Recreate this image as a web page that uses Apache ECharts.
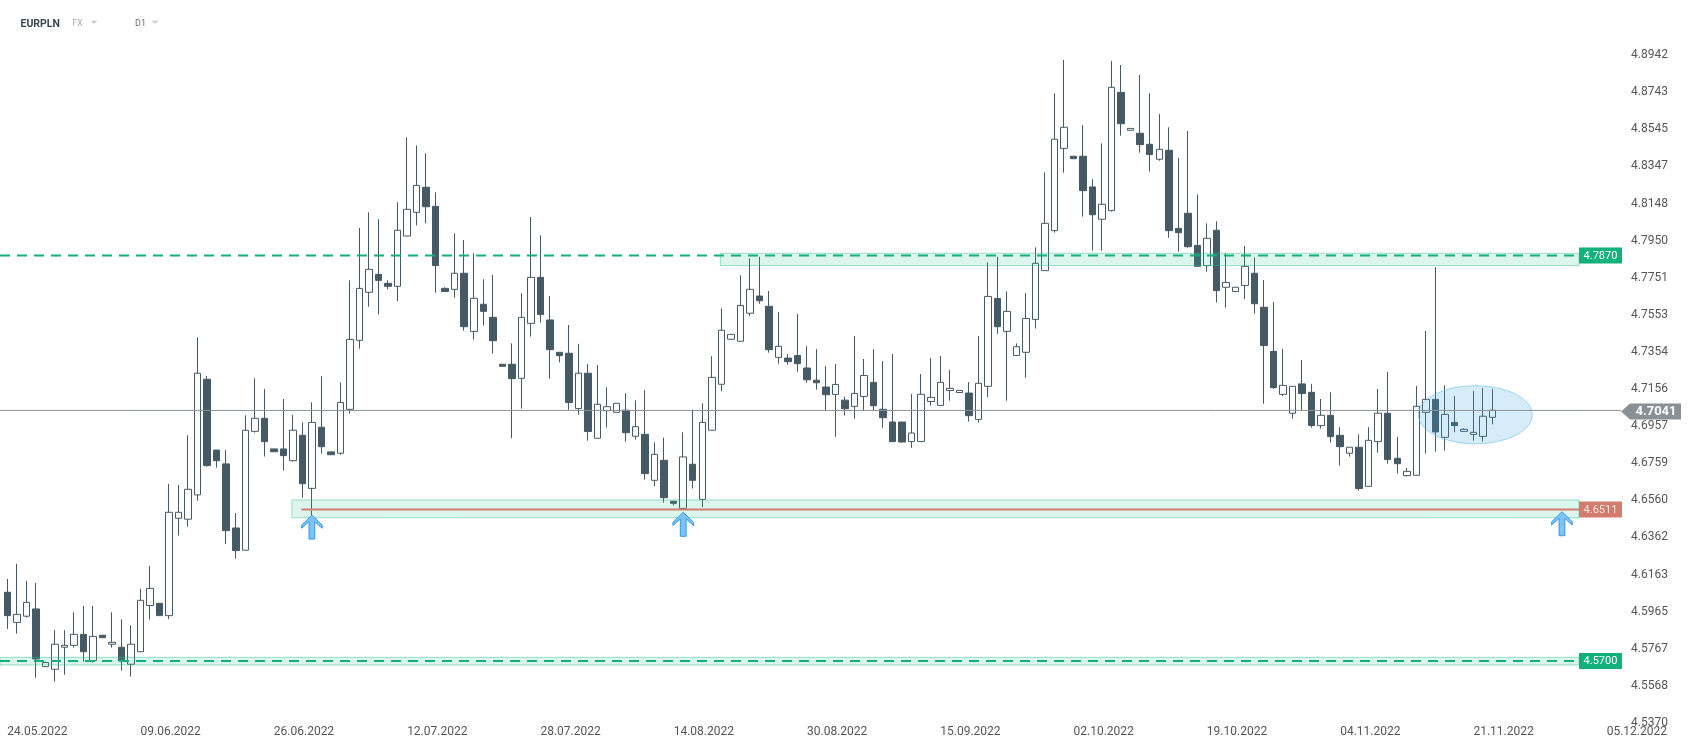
<!DOCTYPE html>
<html><head><meta charset="utf-8">
<script src="https://cdn.jsdelivr.net/npm/echarts@6/dist/echarts.min.js"></script>
<style>html,body{margin:0;padding:0;background:#fff}#c{width:1691px;height:749px}</style>
</head><body><div id="c"></div>
<script>
// ---- categories (6-bar trading weeks Sun-Fri, then future calendar days) ----
const dates = [
'24.05.2022','25.05.2022','26.05.2022','27.05.2022','29.05.2022','30.05.2022','31.05.2022',
'01.06.2022','02.06.2022','03.06.2022','05.06.2022','06.06.2022','07.06.2022','08.06.2022','09.06.2022','10.06.2022',
'12.06.2022','13.06.2022','14.06.2022','15.06.2022','16.06.2022','17.06.2022','19.06.2022','20.06.2022','21.06.2022',
'22.06.2022','23.06.2022','24.06.2022','26.06.2022','27.06.2022','28.06.2022','29.06.2022','30.06.2022',
'01.07.2022','03.07.2022','04.07.2022','05.07.2022','06.07.2022','07.07.2022','08.07.2022','10.07.2022','11.07.2022',
'12.07.2022','13.07.2022','14.07.2022','15.07.2022','17.07.2022','18.07.2022','19.07.2022','20.07.2022','21.07.2022',
'22.07.2022','24.07.2022','25.07.2022','26.07.2022','27.07.2022','28.07.2022','29.07.2022','31.07.2022',
'01.08.2022','02.08.2022','03.08.2022','04.08.2022','05.08.2022','07.08.2022','08.08.2022','09.08.2022','10.08.2022',
'11.08.2022','12.08.2022','14.08.2022','15.08.2022','16.08.2022','17.08.2022','18.08.2022','19.08.2022','21.08.2022',
'22.08.2022','23.08.2022','24.08.2022','25.08.2022','26.08.2022','28.08.2022','29.08.2022','30.08.2022','31.08.2022',
'01.09.2022','02.09.2022','04.09.2022','05.09.2022','06.09.2022','07.09.2022','08.09.2022','09.09.2022','11.09.2022',
'12.09.2022','13.09.2022','14.09.2022','15.09.2022','16.09.2022','18.09.2022','19.09.2022','20.09.2022','21.09.2022',
'22.09.2022','23.09.2022','25.09.2022','26.09.2022','27.09.2022','28.09.2022','29.09.2022','30.09.2022',
'02.10.2022','03.10.2022','04.10.2022','05.10.2022','06.10.2022','07.10.2022','09.10.2022','10.10.2022','11.10.2022',
'12.10.2022','13.10.2022','14.10.2022','17.10.2022','18.10.2022','19.10.2022','20.10.2022','21.10.2022','23.10.2022',
'24.10.2022','25.10.2022','26.10.2022','27.10.2022','28.10.2022','30.10.2022','31.10.2022',
'01.11.2022','02.11.2022','03.11.2022','04.11.2022','06.11.2022','07.11.2022','08.11.2022','09.11.2022','10.11.2022',
'11.11.2022','13.11.2022','14.11.2022','15.11.2022','16.11.2022','17.11.2022','18.11.2022','20.11.2022','21.11.2022',
'22.11.2022','23.11.2022',
'24.11.2022','25.11.2022','26.11.2022','27.11.2022','28.11.2022','29.11.2022','30.11.2022','01.12.2022','02.12.2022',
'03.12.2022','04.12.2022','05.12.2022','06.12.2022'
];

// ---- OHLC series ----
const opens = [
4.6068,4.5907,4.5940,4.5979,4.5670,4.5656,4.5774,4.5784,4.5843,4.5702,
4.5838,4.5790,4.5774,4.5683,4.5750,4.5997,4.6009,4.5943,4.6464,4.6459,
4.6589,4.7208,4.6829,4.6755,4.6412,4.6293,4.6929,4.6999,4.6835,4.6835,
4.6772,4.6908,4.6624,4.6951,4.6819,4.6812,4.7047,4.7416,4.7673,4.7769,
4.7721,4.7705,4.7974,4.8101,4.8235,4.8133,4.7694,4.7689,4.7775,4.7464,
4.7609,4.7539,4.7288,4.7288,4.7213,4.7507,4.7753,4.7525,4.7352,4.7347,
4.7051,4.7240,4.6892,4.7040,4.7031,4.7042,4.6903,4.6913,4.6667,4.6774,
4.6555,4.6517,4.6753,4.6565,4.6935,4.7181,4.7422,4.7411,4.7561,4.7653,
4.7598,4.7325,4.7321,4.7335,4.7268,4.7203,4.7166,4.7127,4.7096,4.7063,
4.7116,4.7191,4.7047,4.6979,4.6979,4.6874,4.6875,4.7089,4.7068,4.7148,
4.7137,4.7134,4.6993,4.7170,4.7640,4.7464,4.7335,4.7352,4.7528,4.7789,
4.8003,4.8443,4.8401,4.8401,4.8237,4.8064,4.8110,4.8743,4.8540,4.8524,
4.8465,4.8385,4.8433,4.8015,4.8096,4.7924,4.7816,4.8005,4.7700,4.7677,
4.7710,4.7775,4.7593,4.7357,4.7127,4.7026,4.7183,4.7138,4.6960,4.7015,
4.6908,4.6812,4.6844,4.6635,4.6874,4.7026,4.6785,4.6692,4.6694,4.7031,
4.7100,4.6897,4.6977,4.6929,4.6913,4.6902,4.7004
];
const closes = [
4.5943,4.5950,4.6014,4.5711,4.5692,4.5790,4.5784,4.5843,4.5750,4.5832,
4.5825,4.5800,4.5702,4.5790,4.6025,4.6089,4.5943,4.6496,4.6496,4.6619,
4.7240,4.6746,4.6772,4.6398,4.6291,4.6935,4.6999,4.6874,4.6820,4.6799,
4.6935,4.6649,4.6977,4.6847,4.6804,4.7084,4.7421,4.7694,4.7796,4.7737,
4.7705,4.8005,4.8117,4.8245,4.8131,4.7816,4.7677,4.7775,4.7489,4.7641,
4.7571,4.7414,4.7277,4.7211,4.7539,4.7753,4.7554,4.7366,4.7334,4.7083,
4.7240,4.6928,4.7074,4.7061,4.7079,4.6922,4.6954,4.6703,4.6806,4.6574,
4.6544,4.6792,4.6667,4.6977,4.7218,4.7470,4.7448,4.7603,4.7689,4.7628,
4.7366,4.7384,4.7302,4.7291,4.7205,4.7189,4.7125,4.7180,4.7050,4.7132,
4.7228,4.7066,4.7002,4.6874,4.6872,4.6920,4.7127,4.7111,4.7191,4.7159,
4.7148,4.7013,4.7186,4.7651,4.7489,4.7571,4.7382,4.7533,4.7828,4.8042,
4.8492,4.8556,4.8388,4.8217,4.8088,4.8144,4.8770,4.8575,4.8550,4.8463,
4.8410,4.8438,4.8003,4.7992,4.7917,4.7812,4.7962,4.7682,4.7726,4.7700,
4.7812,4.7612,4.7388,4.7163,4.7175,4.7170,4.7131,4.6960,4.7015,4.6901,
4.6847,4.6844,4.6623,4.6881,4.7026,4.6778,4.6756,4.6715,4.7063,4.7100,
4.6926,4.7020,4.6960,4.6940,4.6924,4.7010,4.7042
];
const lows = [
4.5872,4.5847,4.5932,4.5611,4.5670,4.5590,4.5627,4.5772,4.5697,4.5693,
4.5825,4.5772,4.5649,4.5617,4.5750,4.5922,4.5943,4.5925,4.6371,4.6419,
4.6558,4.6740,4.6735,4.6326,4.6248,4.6293,4.6922,4.6794,4.6820,4.6719,
4.6767,4.6574,4.6473,4.6810,4.6804,4.6804,4.7024,4.7371,4.7596,4.7555,
4.7689,4.7625,4.7974,4.8031,4.8042,4.7671,4.7677,4.7644,4.7468,4.7420,
4.7495,4.7345,4.7277,4.6892,4.7051,4.7436,4.7511,4.7211,4.7298,4.7045,
4.7018,4.6879,4.6892,4.6949,4.7031,4.6874,4.6885,4.6671,4.6635,4.6548,
4.6533,4.6517,4.6623,4.6523,4.6935,4.7143,4.7422,4.7411,4.7545,4.7612,
4.7350,4.7291,4.7286,4.7248,4.7189,4.7152,4.7038,4.6900,4.7013,4.6997,
4.7038,4.7038,4.6948,4.6874,4.6868,4.6841,4.6875,4.7066,4.7068,4.7093,
4.7137,4.6981,4.6975,4.7111,4.7451,4.7093,4.7335,4.7216,4.7479,4.7789,
4.7992,4.8313,4.8388,4.8078,4.7896,4.7896,4.8105,4.8511,4.8540,4.8420,
4.8319,4.8377,4.7965,4.7891,4.7912,4.7812,4.7784,4.7618,4.7591,4.7677,
4.7637,4.7559,4.7077,4.7156,4.7118,4.6997,4.7043,4.6949,4.6944,4.6869,
4.6746,4.6794,4.6612,4.6635,4.6815,4.6756,4.6703,4.6687,4.6694,4.6810,
4.6820,4.6826,4.6924,4.6929,4.6879,4.6874,4.6967
];
const highs = [
4.6139,4.6220,4.6129,4.6118,4.5697,4.5865,4.5865,4.5961,4.5995,4.5995,
4.5838,4.5961,4.5923,4.5891,4.6086,4.6209,4.6009,4.6648,4.6642,4.6908,
4.7432,4.7225,4.6829,4.6829,4.6492,4.7015,4.7213,4.7156,4.6835,4.7102,
4.7017,4.6977,4.7084,4.7224,4.6819,4.7191,4.7737,4.8017,4.8101,4.8064,
4.7737,4.8155,4.8502,4.8459,4.8417,4.8208,4.7700,4.7989,4.7953,4.7882,
4.7743,4.7766,4.7288,4.7400,4.7668,4.8076,4.7978,4.7653,4.7352,4.7498,
4.7397,4.7290,4.7284,4.7165,4.7079,4.7133,4.7095,4.7149,4.6870,4.6895,
4.6555,4.6924,4.7045,4.7079,4.7331,4.7587,4.7448,4.7764,4.7855,4.7863,
4.7680,4.7567,4.7343,4.7557,4.7385,4.7369,4.7278,4.7289,4.7114,4.7439,
4.7316,4.7369,4.7305,4.7343,4.6979,4.7129,4.7236,4.7321,4.7332,4.7257,
4.7148,4.7193,4.7439,4.7833,4.7863,4.7678,4.7400,4.7669,4.7914,4.8315,
4.8738,4.8916,4.8401,4.8568,4.8278,4.8470,4.8911,4.8889,4.8550,4.8836,
4.8739,4.8627,4.8556,4.8392,4.8536,4.8197,4.8042,4.8053,4.7882,4.7700,
4.7921,4.7860,4.7739,4.7621,4.7370,4.7170,4.7311,4.7183,4.7102,4.7138,
4.6951,4.6844,4.6913,4.6951,4.7156,4.7247,4.6899,4.6733,4.7172,4.7466,
4.7808,4.7175,4.7118,4.6945,4.7145,4.7161,4.7156
];

// ---- tick labels ----
const yTicks = [4.5370,4.5568,4.5767,4.5965,4.6163,4.6362,4.6560,4.6759,4.6957,4.7156,
                4.7354,4.7553,4.7751,4.7950,4.8148,4.8347,4.8545,4.8743,4.8942];
const xLabelEvery = 14;

// ---- annotation levels (data values) ----
const levelResistance = 4.7870, bandResistance = [4.7816, 4.7882], bandResistanceStart = 74.9;
const levelLow = 4.5700, bandLow = [4.5679, 4.5720];
const levelSupport = 4.6511, bandSupport = [4.6467, 4.6562], bandSupportStart = 29.9, supportLineStart = 30.9;
const lastPrice = 4.7041;
const arrowIdx = [32, 71, 163.3];
const arrowTip = [4.6481, 4.6496, 4.6499];
const ellipseCenter = [154.2, 4.7018];

const chart = echarts.init(document.getElementById('c'), null, {renderer: 'canvas'});
const candleData = opens.map((o, i) => [o, closes[i], lows[i], highs[i]]);
const DARK = '#465a66';

chart.setOption({
  animation: false,
  backgroundColor: '#ffffff',
  grid: {left: 2.5, right: 70, top: 40, bottom: 25, containLabel: false, outerBoundsMode: 'none'},
  xAxis: {
    type: 'category', data: dates, boundaryGap: true,
    axisLine: {show: false}, axisTick: {show: false}, splitLine: {show: false},
    axisLabel: {
      interval: (i) => i % xLabelEvery === 0,
      align: 'left', color: '#555', fontSize: 12, fontFamily: 'Roboto', margin: 2
    }
  },
  yAxis: {
    type: 'value', position: 'right', min: 4.53632, max: 4.9023, scale: true,
    splitLine: {show: false}, axisLine: {show: false}, axisTick: {show: false},
    axisLabel: {customValues: yTicks, formatter: (v) => Number(v).toFixed(4),
      color: '#555', fontSize: 12, fontFamily: 'Roboto', margin: 10}
  },
  series: [{
    type: 'candlestick', data: candleData, barWidth: 7,
    itemStyle: {color: '#ffffff', color0: DARK, borderColor: DARK, borderColor0: DARK, borderWidth: 1},
    emphasis: {disabled: true}
  }]
});

// ---- overlays positioned through the chart's own scales ----
const X0 = chart.convertToPixel({xAxisIndex: 0}, 0);
const X1 = chart.convertToPixel({xAxisIndex: 0}, 1);
const step = X1 - X0;
const xAt = f => X0 + f * step;
const yAt = v => chart.convertToPixel({yAxisIndex: 0}, v);

const TAG_X = 1579, TAG_W = 43, TAG_H = 16, AXIS_X = 1621;
const GREEN = '#12b07b';
const els = [];
function band(x1, x2, r) {
  els.push({type: 'rect', z: 10, shape: {x: x1, y: yAt(r[1]), width: x2 - x1, height: yAt(r[0]) - yAt(r[1])},
    style: {fill: 'rgba(40,190,140,0.16)', stroke: 'rgba(40,190,140,0.45)', lineWidth: 1}});
}
function hline(x1, x2, v, stroke, w, dash) {
  els.push({type: 'line', z: 11, shape: {x1: x1, y1: yAt(v), x2: x2, y2: yAt(v)},
    style: {stroke: stroke, lineWidth: w, lineDash: dash || null}});
}
function tag(v, txt, fill, tc) {
  const y = yAt(v);
  els.push({type: 'rect', z: 12, shape: {x: TAG_X, y: y - TAG_H / 2, width: TAG_W, height: TAG_H}, style: {fill: fill}});
  els.push({type: 'text', z: 13, x: TAG_X + TAG_W / 2, y: y + 0.5,
    style: {text: txt, fill: tc, font: '11px Roboto', align: 'center', verticalAlign: 'middle', textAlign: 'center', textVerticalAlign: 'middle'}});
}

band(0, TAG_X, bandLow);
hline(0, TAG_X, levelLow, GREEN, 2, [10, 7]);
band(xAt(bandResistanceStart), TAG_X, bandResistance);
hline(0, TAG_X, levelResistance, GREEN, 2, [10, 7]);
band(xAt(bandSupportStart), TAG_X, bandSupport);
hline(xAt(supportLineStart), TAG_X, levelSupport, '#d47a6e', 2);
tag(levelResistance, levelResistance.toFixed(4), GREEN, '#ffffff');
tag(levelLow, levelLow.toFixed(4), GREEN, '#ffffff');
tag(levelSupport, levelSupport.toFixed(4), '#d27c70', '#fbe3df');

// arrows
arrowIdx.forEach((ix, k) => {
  const cx = xAt(ix), ty = yAt(arrowTip[k]);
  const rel = [[0,0],[10.3,10],[10.3,13.2],[2.9,6.6],[2.9,24],[-2.9,24],[-2.9,6.6],[-10.3,13.2],[-10.3,10]];
  els.push({type: 'polygon', z: 14, shape: {points: rel.map(p => [cx + p[0], ty + p[1]])},
    style: {fill: '#7cc3f7', stroke: '#3a95e6', lineWidth: 1}});
});

// ellipse highlight
els.push({type: 'ellipse', z: 15, shape: {cx: xAt(ellipseCenter[0]), cy: yAt(ellipseCenter[1]), rx: 57, ry: 29},
  style: {fill: 'rgba(50,160,225,0.2)', stroke: 'rgba(90,185,235,0.55)', lineWidth: 1}});

// last price line + tag
const yp = yAt(lastPrice);
els.push({type: 'line', z: 16, shape: {x1: 0, y1: yp, x2: AXIS_X, y2: yp}, style: {stroke: '#8c9195', lineWidth: 1}});
els.push({type: 'polygon', z: 17, shape: {points: [[AXIS_X, yp + 1], [AXIS_X + 9, yp - 7], [1681, yp - 7], [1681, yp + 9], [AXIS_X + 9, yp + 9]]},
  style: {fill: '#8a9196'}});
els.push({type: 'text', z: 18, x: 1656, y: yp + 1.5,
  style: {text: lastPrice.toFixed(4), fill: '#ffffff', font: 'bold 13px Roboto', align: 'center', verticalAlign: 'middle', textAlign: 'center', textVerticalAlign: 'middle'}});

// header
els.push({type: 'text', z: 20, x: 20.5, y: 24, style: {text: 'EURPLN', fill: '#3a4750', font: 'bold 10.5px Roboto', verticalAlign: 'middle', textVerticalAlign: 'middle'}});
els.push({type: 'text', z: 20, x: 72.5, y: 24, style: {text: 'FX', fill: '#a3a8ac', font: '8.5px Roboto', verticalAlign: 'middle', textVerticalAlign: 'middle'}});
els.push({type: 'polygon', z: 20, shape: {points: [[90.5, 20.8], [97.5, 20.8], [94, 23.8]]}, style: {fill: '#c9cdd0'}});
els.push({type: 'text', z: 20, x: 135, y: 24, style: {text: 'D1', fill: '#6b737a', font: '9px Roboto', verticalAlign: 'middle', textVerticalAlign: 'middle'}});
els.push({type: 'polygon', z: 20, shape: {points: [[151.5, 20.8], [158.5, 20.8], [155, 23.8]]}, style: {fill: '#c9cdd0'}});

chart.setOption({graphic: {elements: els}});
</script>
</body></html>
